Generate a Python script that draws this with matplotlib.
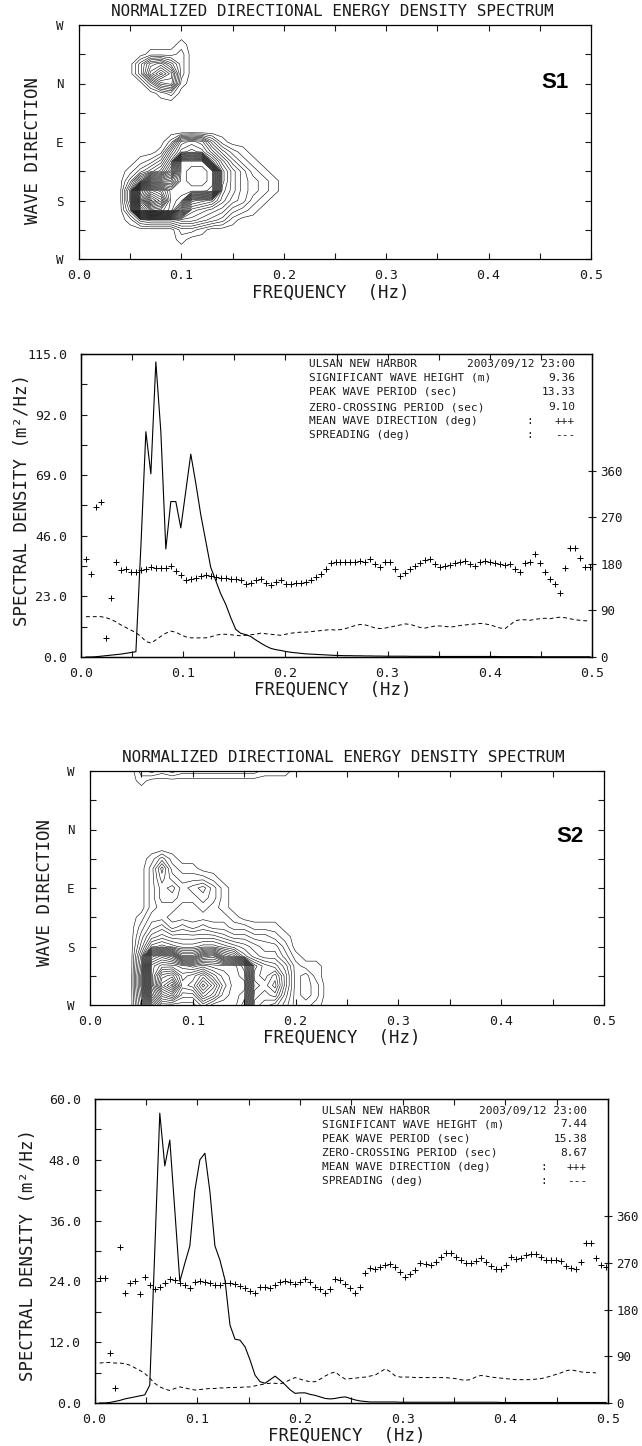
import numpy as np
import matplotlib
matplotlib.use("Agg")
import matplotlib.pyplot as plt
from matplotlib.ticker import MultipleLocator, FormatStrFormatter

plt.rcParams['font.family'] = ['DejaVu Sans Mono']

W, H = 642, 1446          # figure size in pixels
DF = 1 / 204.8            # frequency resolution of the spectra (Hz)
INK = '#1a1a1a'

# ---- 1D spectra : one value per bin k*DF, k = 1..102 ----
spec_s1 = [0, 0, 0.1, 0.3, 0.5, 0.7, 0.9, 1.1, 1.4, 1.7,
           2.0, 42, 85.5, 69.5, 112, 85.5, 41, 59, 59, 49,
           63, 77, 66, 54, 44, 34, 29, 24, 20, 15,
           10.5, 9, 8.5, 7.8, 6.5, 5.3, 4.2, 3.3, 2.8, 2.5,
           2.1, 1.8, 1.6, 1.4, 1.2, 1.1, 1.0, 0.9, 0.8, 0.7,
           0.6, 0.55, 0.5, 0.5, 0.45, 0.45, 0.4, 0.4, 0.35, 0.35,
           0.3, 0.3, 0.3, 0.3, 0.3, 0.25, 0.25, 0.25, 0.25, 0.25,
           0.2, 0.2, 0.2, 0.2, 0.2, 0.2, 0.2, 0.2, 0.2, 0.2,
           0.2, 0.2, 0.2, 0.15, 0.15, 0.15, 0.15, 0.15, 0.15, 0.15,
           0.1, 0.1, 0.1, 0.1, 0.1, 0.1, 0.1, 0.1, 0.1, 0.1,
           0.1, 0.1]
dir_s1 = [189, 160, 290, 300, 36, 115, 183, 168, 171, 165,
          164, 168, 171, 174, 173, 172, 173, 176, 167, 159,
          149, 150, 153, 157, 159, 157, 154, 153, 152, 151,
          150, 148, 142, 144, 148, 150, 144, 139, 146, 149,
          142, 142, 143, 144, 145, 149, 154, 160, 170, 181,
          183, 183, 184, 183, 184, 185, 183, 190, 180, 175,
          183, 184, 170, 157, 162, 170, 176, 182, 187, 190,
          180, 174, 176, 178, 181, 183, 185, 179, 176, 184,
          185, 184, 181, 179, 178, 180, 170, 165, 181, 183,
          200, 181, 165, 150, 142, 124, 172, 210, 210, 191,
          175, 175]
spr_s1 = [78, 78, 78, 78, 76, 73, 68, 62, 57, 52,
          47, 40, 30, 27, 33, 40, 46, 50, 48, 43,
          39, 37, 37, 37, 37, 39, 42, 44, 44, 43,
          42, 41, 42, 43, 44, 46, 45, 44, 43, 42,
          44, 46, 47, 48, 48, 49, 50, 51, 52, 53,
          52, 53, 55, 58, 61, 63, 62, 59, 56, 55,
          56, 58, 60, 62, 64, 63, 60, 57, 56, 58,
          60, 60, 59, 58, 59, 61, 62, 63, 64, 65,
          64, 62, 59, 56, 55, 62, 70, 72, 72, 71,
          73, 74, 75, 74, 76, 77, 76, 74, 72, 71,
          70, 70]

spec_s2 = [0, 0, 0.1, 0.3, 0.5, 0.8, 1.0, 1.2, 1.4, 1.6,
           3.5, 30, 57.2, 46.8, 51.9, 38, 24, 27.6, 31, 42,
           48, 49.3, 41.7, 31, 28.2, 24.3, 15.4, 12.6, 12.4, 11.1,
           8.5, 5.5, 4.2, 3.9, 4.6, 5.3, 4.5, 3.6, 2.6, 1.9,
           2.0, 2.0, 1.7, 1.5, 1.2, 0.9, 0.8, 0.9, 1.1, 1.2,
           0.9, 0.6, 0.4, 0.3, 0.2, 0.2, 0.2, 0.2, 0.2, 0.2,
           0.15, 0.15, 0.15, 0.15, 0.15, 0.15, 0.15, 0.15, 0.15, 0.15,
           0.15, 0.15, 0.15, 0.15, 0.15, 0.15, 0.15, 0.15, 0.15, 0.15,
           0.1, 0.1, 0.1, 0.1, 0.1, 0.1, 0.1, 0.1, 0.1, 0.1,
           0.1, 0.1, 0.1, 0.1, 0.1, 0.1, 0.1, 0.1, 0.1, 0.1,
           0.1, 0.1]
dir_s2 = [240, 240, 97, 28, 301, 213, 232, 235, 210, 243,
          227, 219, 224, 231, 239, 237, 232, 227, 221, 233,
          235, 234, 232, 228, 228, 231, 232, 230, 225, 221,
          216, 213, 224, 224, 221, 227, 233, 235, 233, 230,
          234, 239, 234, 224, 219, 213, 219, 239, 237, 230,
          221, 213, 224, 250, 261, 258, 262, 266, 268, 262,
          252, 243, 248, 256, 269, 268, 266, 272, 282, 289,
          289, 282, 276, 270, 270, 273, 279, 272, 264, 258,
          258, 266, 282, 278, 279, 285, 287, 287, 282, 276,
          276, 276, 274, 265, 260, 258, 272, 308, 308, 279,
          266, 262]
spr_s2 = [77, 78, 78, 77, 77, 76, 73, 68, 63, 57,
          48, 38, 31, 27, 24, 28, 31, 29, 27, 25,
          26, 27, 28, 28, 29, 29, 30, 30, 30, 31,
          31, 33, 35, 37, 38, 38, 37, 40, 45, 49,
          46, 43, 41, 41, 46, 52, 57, 60, 52, 46,
          47, 48, 49, 50, 52, 54, 60, 66, 60, 52,
          50, 50, 50, 49, 49, 49, 49, 49, 49, 49,
          48, 47, 45, 44, 45, 50, 53, 52, 50, 49,
          48, 47, 46, 45, 45, 45, 45, 46, 47, 49,
          52, 55, 58, 62, 64, 62, 60, 59, 59, 58]

info_s1 = ["9.36", "13.33", "9.10"]
info_s2 = ["7.44", "15.38", "8.67"]

# ---- normalized directional spectra read on a coarse grid ----
grid_freq = [0.03, 0.04, 0.05, 0.06, 0.07, 0.08, 0.09, 0.10, 0.11, 0.12, 0.13,
             0.14, 0.15, 0.16, 0.17, 0.18, 0.19, 0.20, 0.21, 0.22, 0.23, 0.24]
grid_dir = [360, 345, 330, 315, 300, 285, 270, 255, 240, 225, 210, 195, 180,
            165, 150, 135, 120, 105, 90, 75, 60, 45, 30, 15, 0]
# one row per direction (first row = 360), one base-36 digit per frequency
s1_rows = ["0000000000000000000000",
           "0000000000000000000000",
           "0000000100000000000000",
           "0000111200000000000000",
           "0003785200000000000000",
           "00039c9200000000000000",
           "0000378100000000000000",
           "0000012000000000000000",
           "0000000000000000000000",
           "0000000000000000000000",
           "0000000000000000000000",
           "0000000000000000000000",
           "0000002898410000000000",
           "0000016aba742100000000",
           "0001249ooob74210000000",
           "001357coppo96421000000",
           "0039hhioppo96432100000",
           "006ousoooon86432100000",
           "006qzwoncba75421000000",
           "004mrqoh87653210000000",
           "0014555665431000000000",
           "0000000221000000000000",
           "0000000100000000000000",
           "0000000000000000000000",
           "0000000000000000000000"]
s2_rows = ["0023232222222211100000",
           "0010000000000000000000",
           "0000000000000000000000",
           "0000000000000000000000",
           "0000000000000000000000",
           "0000000000000000000000",
           "0000000000000000000000",
           "0000000000000000000000",
           "0000000000000000000000",
           "0001310000000000000000",
           "0002621100000000000000",
           "0002532221000000000000",
           "0002453453100000000000",
           "0002443343100000000000",
           "0002332232100000000000",
           "0013322222210000000000",
           "0024534343322111000000",
           "0036766666544332100000",
           "0049a98899876544200000",
           "006kmkeeijec8655310000",
           "007oqqpopoooma87521100",
           "008ouvrsurpon98a623100",
           "008owzstxuqooa9b623200",
           "007msuqquspon989523200",
           "006iooooqooom876422100"]


def fx(x):
    return x / W


def fy(y):
    return 1 - y / H


def axes_px(left, top, right, bottom):
    return fig.add_axes([fx(left), fy(bottom), (right - left) / W, (bottom - top) / H])


def decode(rows):
    return np.array([[int(ch, 36) for ch in row] for row in rows], dtype=float)


def contour_panel(ax, rows, tag, title_xy, tag_xy, ylab_xy, xlab_xy):
    z = decode(rows)[::-1]
    d = np.array(grid_dir)[::-1]
    ax.contour(grid_freq, d, z, levels=np.arange(0.5, 36, 1.0),
               colors='k', linewidths=0.4)
    ax.set_xlim(0, 0.5)
    ax.set_ylim(0, 360)
    ax.xaxis.set_major_locator(MultipleLocator(0.1))
    ax.xaxis.set_minor_locator(MultipleLocator(0.05))
    ax.xaxis.set_major_formatter(FormatStrFormatter('%.1f'))
    ax.set_yticks([0, 90, 180, 270, 360])
    ax.set_yticklabels(['W', 'S', 'E', 'N', 'W'])
    ax.yaxis.set_minor_locator(MultipleLocator(45))
    ax.tick_params(which='both', direction='in', top=True, right=True,
                   length=4, width=0.8, colors=INK)
    ax.tick_params(axis='x', labelsize=9.5, pad=7)
    ax.tick_params(axis='y', labelsize=9, pad=11)
    for s in ax.spines.values():
        s.set_linewidth(0.9)
    fig.text(fx(title_xy[0]), fy(title_xy[1]),
             'NORMALIZED DIRECTIONAL ENERGY DENSITY SPECTRUM',
             ha='center', va='center', fontsize=11.5, color=INK)
    fig.text(fx(tag_xy[0]), fy(tag_xy[1]), tag, ha='center', va='center',
             fontsize=16, fontweight='bold',
             family=['Liberation Sans Narrow', 'Liberation Sans'])
    fig.text(fx(ylab_xy[0]), fy(ylab_xy[1]), 'WAVE DIRECTION', rotation=90,
             ha='center', va='center', fontsize=12.5, color=INK)
    fig.text(fx(xlab_xy[0]), fy(xlab_xy[1]), 'FREQUENCY  (Hz)',
             ha='center', va='center', fontsize=12.5, color=INK)


def spectrum_panel(ax, spec, dirs, spr, ymax, vals, box, ylab_xy, xlab_xy):
    freq = np.arange(1, 103) * DF
    ax.plot(freq[:len(spec)], spec, color='k', lw=0.8)
    ax.set_xlim(0, 0.5)
    ax.set_ylim(0, ymax)
    ax.xaxis.set_major_locator(MultipleLocator(0.1))
    ax.xaxis.set_minor_locator(MultipleLocator(0.05))
    ax.xaxis.set_major_formatter(FormatStrFormatter('%.1f'))
    ax.yaxis.set_major_locator(MultipleLocator(ymax / 5))
    ax.yaxis.set_minor_locator(MultipleLocator(ymax / 10))
    ax.yaxis.set_major_formatter(FormatStrFormatter('%.1f'))
    ax.tick_params(which='both', direction='in', top=True, length=4,
                   width=0.8, colors=INK)
    ax.tick_params(axis='x', labelsize=9.5, pad=7)
    ax.tick_params(axis='y', labelsize=9.5, pad=10)

    axr = ax.twinx()
    axr.set_ylim(0, 586)
    axr.set_yticks([0, 90, 180, 270, 360])
    axr.tick_params(direction='inout', length=6, width=0.8, labelsize=9,
                    pad=3, colors=INK)
    axr.plot(freq[:len(dirs)], dirs, linestyle='none', marker='+',
             color='k', ms=4.5, mew=0.7)
    axr.plot(freq[:len(spr)], spr, color='k', lw=0.7, linestyle=(0, (4, 3)))
    for a in (ax, axr):
        for s in a.spines.values():
            s.set_linewidth(0.9)

    left, right, colon, ys = box
    labels = ["SIGNIFICANT WAVE HEIGHT (m)", "PEAK WAVE PERIOD (sec)",
              "ZERO-CROSSING PERIOD (sec)", "MEAN WAVE DIRECTION (deg)",
              "SPREADING (deg)"]
    values = list(vals) + ["+++", "---"]
    kw = dict(fontsize=8, va='center', color=INK)
    fig.text(fx(left), fy(ys[0]), "ULSAN NEW HARBOR", ha='left', **kw)
    fig.text(fx(right), fy(ys[0]), "2003/09/12 23:00", ha='right', **kw)
    for i, (lab, v) in enumerate(zip(labels, values)):
        y = ys[i + 1]
        fig.text(fx(left), fy(y), lab, ha='left', **kw)
        fig.text(fx(right), fy(y), v, ha='right', **kw)
        if i >= 3:
            fig.text(fx(colon), fy(y), ":", ha='center', **kw)

    fig.text(fx(ylab_xy[0]), fy(ylab_xy[1]), 'SPECTRAL DENSITY (m²/Hz)',
             rotation=90, ha='center', va='center', fontsize=12.5, color=INK)
    fig.text(fx(xlab_xy[0]), fy(xlab_xy[1]), 'FREQUENCY  (Hz)',
             ha='center', va='center', fontsize=12.5, color=INK)


fig = plt.figure(figsize=(W / 100, H / 100), dpi=100)

ax1 = axes_px(79, 25, 591, 259)
contour_panel(ax1, s1_rows, 'S1', (332, 12), (555, 83), (33, 150), (331, 293))

ax2 = axes_px(81, 354, 592, 657)
spectrum_panel(ax2, spec_s1, dir_s1, spr_s1, 115.0, info_s1,
               (309, 575, 530, [364, 378, 392, 407, 421, 435]),
               (22, 500), (333, 690))

ax3 = axes_px(90, 771, 604, 1005)
contour_panel(ax3, s2_rows, 'S2', (343, 758), (570, 836), (45, 892), (342, 1038))

ax4 = axes_px(94.6, 1099, 608, 1403)
spectrum_panel(ax4, spec_s2, dir_s2, spr_s2, 60.0, info_s2,
               (321.6, 587, 543.6, [1110.7, 1124.3, 1138.7, 1152.7, 1167, 1181]),
               (28, 1255), (347, 1436))

fig.savefig('out.png', dpi=100)
